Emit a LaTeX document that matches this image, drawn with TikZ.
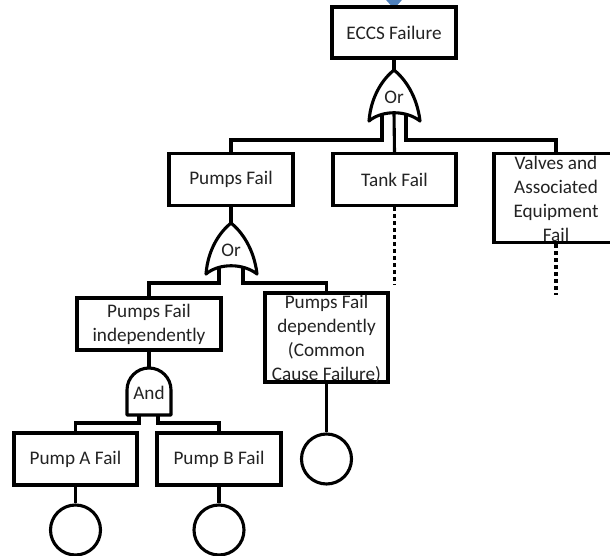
\documentclass[tikz,border=0pt]{standalone}
\usepackage{fontspec}
\setmainfont{Carlito}
\usetikzlibrary{arrows.meta}
\definecolor{flowblue}{RGB}{79,129,189}
\definecolor{inkgray}{RGB}{35,35,35}
\begin{document}
\begin{tikzpicture}[x=1pt,y=-1pt,
  every node/.style={font=\fontsize{19.2}{24}\selectfont, text=inkgray},
  evt/.style={draw=black, line width=3.3pt, fill=white, minimum width=124pt,
    minimum height=52pt, inner sep=0pt, align=center},
  basic/.style={draw=black, circle, line width=3.1pt, minimum size=50pt, inner sep=0pt},
  wire/.style={draw=black, line width=3.1pt},
  undev/.style={draw=black, line width=3.3pt, dash pattern=on 4pt off 3pt},
  orgate/.pic={
    \draw[line width=3.1pt, fill=white, line join=round]
      (0,0) .. controls (-10,8) and (-23,25) .. (-25,51)
            .. controls (-12,40) and (12,40) .. (26,51)
            .. controls (23,25) and (10,8) .. (0,0) -- cycle;
    \coordinate (-tip) at (0,0);
    \coordinate (-in1) at (-12,45);
    \coordinate (-in2) at (0,43);
    \coordinate (-in3) at (12,45);
    \node (-label) at (0,27) {Or};
  },
  andgate/.pic={
    \draw[line width=3.1pt, fill=white, line join=round]
      (-22,47) -- (-22,22) .. controls (-22,9.85) and (-12.15,0) .. (0,0)
      .. controls (12.15,0) and (22,9.85) .. (22,22) -- (22,47) -- cycle;
    \coordinate (-tip) at (0,0);
    \coordinate (-in1) at (-10,47);
    \coordinate (-in2) at (9,47);
    \node (-label) at (0,25) {And};
  }]
\useasboundingbox (0,0) rectangle (610,556);

% incoming flow into the top event
\coordinate (feed) at (394,-40);
\coordinate (feedtip) at (394,9);
\draw[line width=3pt, flowblue, -{Triangle[length=10pt,width=17pt]}] (feed) -- (feedtip);

% events
\node[evt, minimum height=51pt] (eccs) at (394,32.5) {ECCS Failure};
\node[evt] (pumps) at (231,179.5) {Pumps Fail};
\node[evt, minimum width=123pt] (tank) at (394.5,179.5) {Tank Fail};
\node[evt, minimum height=89pt] (valves) at (556,198) {};
\node[align=center] (valvestext) at (556,199) {Valves and\\Associated\\Equipment\\Fail};
\node[evt, minimum width=144pt] (indep) at (149,324) {Pumps Fail\\independently};
\node[evt, minimum width=123pt, minimum height=89pt] (dep) at (326.5,337.5) {};
\node[align=center] (deptext) at (326.5,339) {Pumps Fail\\dependently\\(Common\\Cause Failure)};
\node[evt, minimum width=123pt] (pumpA) at (75.5,459) {Pump A Fail};
\node[evt] (pumpB) at (219,459) {Pump B Fail};

% basic events
\node[basic] (cA) at (75.5,530) {};
\node[basic] (cB) at (219,530) {};
\node[basic] (cD) at (326.5,459) {};

% gates
\pic (g1) at (394,70) {orgate};
\pic (g2) at (231,223) {orgate};
\pic (g3) at (149,368) {andgate};

% top OR
\draw[wire] (eccs.south) -- (g1-tip);
\draw[wire] (g1-in1) -- ++(0,25) -| (pumps.north);
\draw[wire] (g1-in2) -- (tank.north);
\draw[wire] (g1-in3) -- ++(0,25) -| (valves.north);

% pumps OR
\draw[wire] (pumps.south) -- (g2-tip);
\draw[wire] (g2-in1) -- ++(0,15) -| (indep.north);
\draw[wire] (g2-in3) -- ++(0,15) -| (dep.north);

% pumps AND
\draw[wire] (indep.south) -- (g3-tip);
\draw[wire] (g3-in1) -- ++(0,8) -| (pumpA.north);
\draw[wire] (g3-in2) -- ++(0,8) -| (pumpB.north);

% basic event links
\draw[wire] (pumpA) -- (cA);
\draw[wire] (pumpB) -- (cB);
\draw[wire] (dep) -- (cD);

% undeveloped branches
\coordinate (tankend) at (394.5,285);
\coordinate (valvesend) at (556,295);
\draw[undev] (tank.south) -- (tankend);
\draw[undev] (valves.south) -- (valvesend);
\end{tikzpicture}
\end{document}
